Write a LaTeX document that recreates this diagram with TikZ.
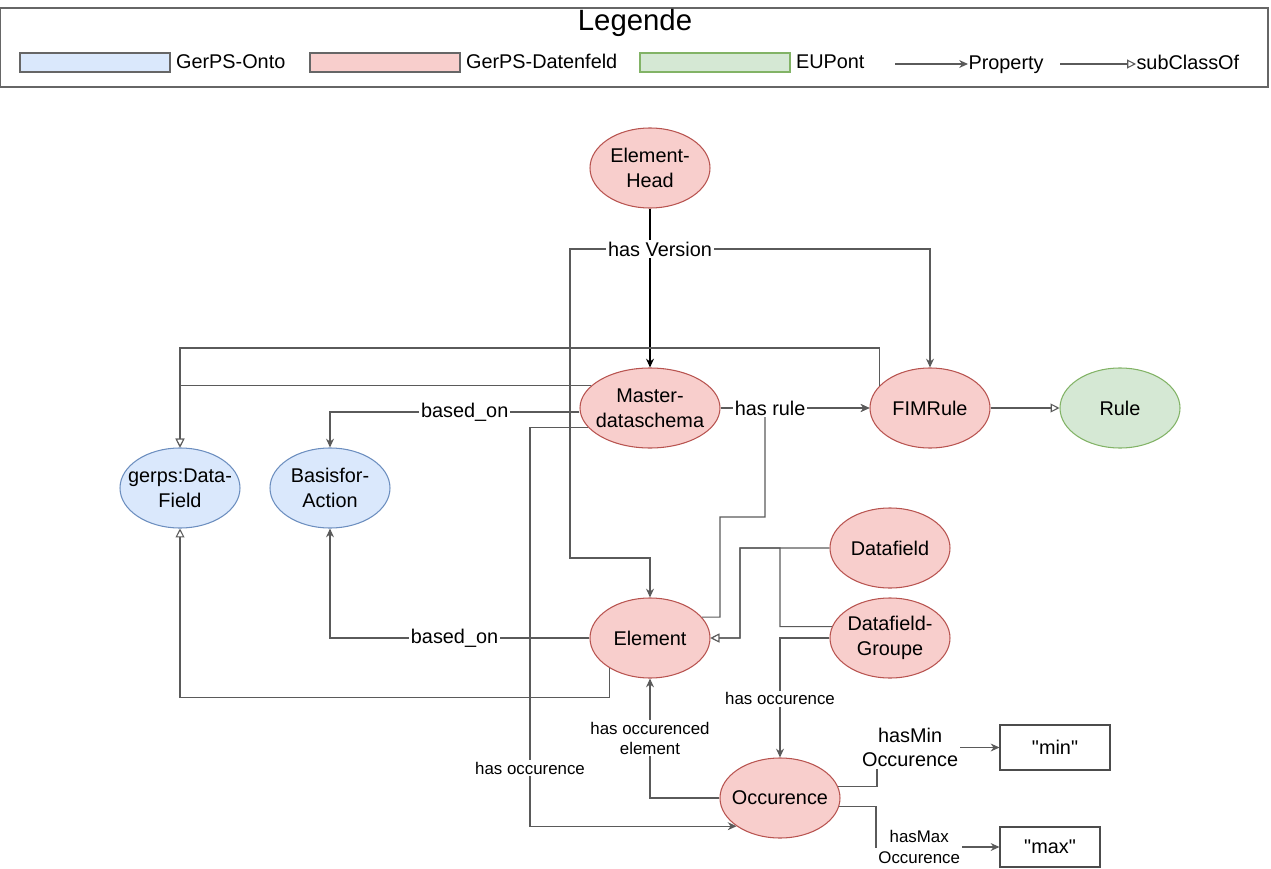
\documentclass[tikz,border=0pt]{standalone}
\usepackage{fontspec}
\setmainfont{Liberation Sans}
\usepackage{tikz}
\usetikzlibrary{shapes.geometric}
\usetikzlibrary{positioning}
\usetikzlibrary{calc}
\usetikzlibrary{arrows.meta}
\definecolor{ontofill}{HTML}{DAE8FC}
\definecolor{ontoline}{HTML}{6C8EBF}
\definecolor{datfill}{HTML}{F8CECC}
\definecolor{datline}{HTML}{B85450}
\definecolor{eufill}{HTML}{D5E8D4}
\definecolor{euline}{HTML}{82B366}
\definecolor{edgegray}{HTML}{5A5A5A}
\tikzset{every picture/.style={line width=0.6pt},
  cls/.style={ellipse, draw, minimum width=2.4cm, minimum height=1.6cm, inner xsep=-8pt, inner ysep=0pt, align=center},
  onto/.style={cls, fill=ontofill, draw=ontoline},
  dfeld/.style={cls, fill=datfill, draw=datline},
  eupont/.style={cls, fill=eufill, draw=euline},
  lit/.style={rectangle, draw=black!70, minimum width=2.2cm, minimum height=0.9cm},
  swatch/.style={rectangle, draw=black!60, minimum width=3cm, minimum height=0.38cm},
  legtxt/.style={inner sep=0pt, anchor=west, text height=1.5ex, text depth=0.3ex},
  lbl/.style={fill=white, inner sep=1pt, align=center},
  slbl/.style={fill=white, inner sep=1pt, align=center, font=\fontsize{9.6}{11.5}\selectfont},
  prop/.style={draw=edgegray, -{Stealth[length=5pt, width=4.5pt]}},
  sub/.style={draw=edgegray, -{Triangle[open, length=5pt, width=5pt, fill=white]}}}

\begin{document}
\begin{tikzpicture}[font=\fontsize{11.3}{14}\selectfont]
\useasboundingbox (0,0) rectangle (25.42,-17.38);
% legend
\node (legend) [draw=black!60, minimum width=25.36cm, minimum height=1.58cm, inner sep=0pt] at (12.68,-0.95) {};
\node (legtitle) [font=\fontsize{16.7}{20}\selectfont] at (12.7,-0.45) {Legende};
\node (kOnto) [swatch, fill=ontofill] at (1.9,-1.25) {};
\node (tOnto) [legtxt, right=0.1cm of kOnto] {GerPS-Onto};
\node (kDat) [swatch, fill=datfill] at (7.7,-1.25) {};
\node (tDat) [legtxt, right=0.1cm of kDat] {GerPS-Datenfeld};
\node (kEu) [swatch, fill=eufill, draw=euline] at (14.3,-1.25) {};
\node (tEu) [legtxt, right=0.1cm of kEu] {EUPont};
\coordinate (pstart) at (17.9,-1.28);
\node (tProp) [legtxt] at (19.36,-1.28) {Property};
\draw [prop] (pstart) -- (tProp);
\coordinate (sstart) at (21.2,-1.28);
\node (tSub) [legtxt] at (22.72,-1.28) {subClassOf};
\draw [sub] (sstart) -- (tSub);

% classes
\node (ehead) [dfeld] at (13,-3.36) {Element-\\Head};
\node (mds) [dfeld, below of=ehead, node distance=4.8cm, minimum width=2.8cm] {Master-\\dataschema};
\node (fim) [dfeld, right of=mds, node distance=5.6cm] {FIMRule};
\node (rule) [eupont, right of=fim, node distance=3.8cm] {Rule};
\node (gerps) [onto] at (3.6,-9.76) {gerps:Data-\\Field};
\node (basis) [onto, right of=gerps, node distance=3cm] {Basisfor-\\Action};
\node (elem) [dfeld, below of=mds, node distance=4.6cm] {Element};
\node (df) [dfeld] at (17.8,-10.96) {Datafield};
\node (dfg) [dfeld, below of=df, node distance=1.8cm] {Datafield-\\Groupe};
\node (occ) [dfeld] at (15.6,-15.96) {Occurence};
\node (minv) [lit] at (21.1,-14.95) {\textquotedbl min\textquotedbl};
\node (maxv) [lit, minimum width=2cm, minimum height=0.8cm] at (21.0,-16.94) {\textquotedbl max\textquotedbl};

% has Version
\coordinate (vj) at (13,-4.98);
\draw [prop] (vj) -| (11.4,-11.16) -| (elem.north);
\draw [prop] (vj) -| (fim.north);
\draw [prop, draw=black] (ehead) -- node[lbl, pos=0.256, xshift=0.2cm] {has Version} (mds);

% subClassOf
\draw [sub] (mds.159) -| (gerps.north);
\draw [sub] (fim.156) |- (3.6,-6.96) -- (gerps.north);
\draw [sub] (fim) -- (rule);
\draw [sub] (df.west) -| (14.8,-12.76) -- (elem.east);
\draw [sub] (dfg.169) -| (15.6,-10.96) -| (14.8,-12.76) -- (elem.east);
\draw [sub] (elem.217) -- ++(0,-0.58) -| (gerps.south);

% has rule
\draw [prop] (elem.22) -| (14.4,-10.34) -| (15.3,-8.16) -- (fim.west);
\draw [prop] (mds) -- node[lbl, pos=0.333] {has rule} (fim);

% based_on
\draw [prop] ($(mds.west)+(0,-0.08)$) -| node[lbl, pos=0.23] {based\_on} (basis.north);
\draw [prop] (elem.west) -| node[lbl, pos=0.26] {based\_on} (basis.south);

% occurence
\draw [prop] (mds.197) -| (10.6,-15.36) node[slbl] {has occurence} |- (occ.213);
\draw [prop] (dfg.west) -| node[slbl, pos=0.755] {has occurence} (occ.north);
\draw [prop] (occ.west) -| node[slbl, pos=0.75] {has occurenced\\element} (elem.south);
\draw [prop] (occ.11) -| (17.54,-14.95) -- node[lbl, pos=0.27] {hasMin\\Occurence} (minv);
\draw [prop] (occ.-8) -| (17.52,-16.94) -- node[slbl, pos=0.35] {hasMax\\Occurence} (maxv);
\end{tikzpicture}
\end{document}
